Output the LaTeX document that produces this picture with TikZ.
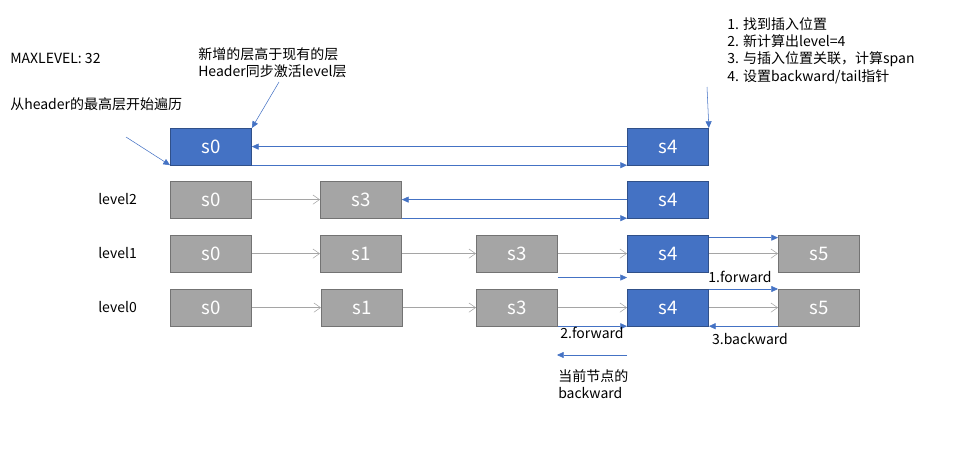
\documentclass[tikz,border=0pt]{standalone}
\usepackage{fontspec}
\setmainfont{Noto Sans CJK SC}
\usetikzlibrary{arrows.meta}
\definecolor{bl}{HTML}{4472C4}
\definecolor{gr}{HTML}{A5A5A5}
\definecolor{grb}{HTML}{7F7F7F}
\begin{document}
\begin{tikzpicture}[x=0.75pt,y=-0.75pt,
  bx/.style={draw=#1!70!black,fill=#1,minimum width=61pt,minimum height=27.5pt,inner sep=0,text=white,font=\fontsize{14}{14}\selectfont,anchor=north west},
  ba/.style={draw=bl,thin,-{Triangle[length=5pt,width=4.5pt]}},
  ga/.style={draw=gr,thin,-{Straight Barb[length=5pt,width=7pt]}},
  lb/.style={font=\fontsize{10.5}{13}\selectfont,align=left,inner sep=0}]
\useasboundingbox (0,0) rectangle (972,464);
% boxes
\node[bx=bl] (t0) at (170,128) {s0};
\node[bx=bl] (t4) at (627,128) {s4};
\node[bx=gr] (a0) at (170,181) {s0};
\node[bx=gr] (a3) at (320,181) {s3};
\node[bx=bl] (a4) at (627,181) {s4};
\node[bx=gr] (b0) at (170,235) {s0};
\node[bx=gr] (b1) at (320,235) {s1};
\node[bx=gr] (b3) at (476,235) {s3};
\node[bx=bl] (b4) at (627,235) {s4};
\node[bx=gr] (b5) at (778,235) {s5};
\node[bx=gr] (c0) at (170,289) {s0};
\node[bx=gr] (c1) at (321,289) {s1};
\node[bx=gr] (c3) at (476,289) {s3};
\node[bx=bl] (c4) at (627,289) {s4};
\node[bx=gr] (c5) at (778,289) {s5};
% top row
\draw[ba] ([yshift=0pt]t4.west) -- (t0.east);
\draw[ba] (t0.south east) -- (t4.south west);
% level2
\draw[ga] (a0) -- (a3);
\draw[ba] (a4.west) -- (a3.east);
\draw[ba] (a3.south east) -- (a4.south west);
% level1
\draw[ga] (b0) -- (b1);
\draw[ga] (b1) -- (b3);
\draw[ga] (b3) -- (b4);
\draw[ga] (b4) -- (b5);
\draw[ba] ([yshift=-4pt]b3.south east) -- ([yshift=-4pt]b4.south west);
\draw[ba] ([yshift=-2pt]b4.north east) -- ([yshift=-2pt]b5.north west);
% level0
\draw[ga] (c0) -- (c1);
\draw[ga] (c1) -- (c3);
\draw[ga] (c3) -- (c4);
\draw[ga] (c4) -- (c5);
\draw[ba] (c4.north east) -- (c5.north west);
\draw[ba] (c3.south east) -- (c4.south west);
\draw[ba] (c5.south west) -- (c4.south east);
% labels
\node[lb,anchor=north] (f1) at (740,271) {1.forward};
\node[lb,anchor=north] (f2) at (592,327) {2.forward};
\node[lb,anchor=north] (f3) at (750,333) {3.backward};
\coordinate (l1) at (627,355);
\coordinate (l2) at (557,355);
\draw[ba] (l1) -- (l2);
\node[lb,anchor=north west] (cur) at (558,369) {当前节点的\\backward};
\node[lb,anchor=west] (ml) at (10,58) {MAXLEVEL:\ 32};
\node[lb,anchor=north west] (n1) at (10,97) {从header的最高层开始遍历};
\node[lb,anchor=north west] (n2) at (198,47) {新增的层高于现有的层\\Header同步激活level层};
\node[lb,anchor=north west] (n3) at (727,17) {1. 找到插入位置\\2. 新计算出level=4\\3. 与插入位置关联，计算span\\4. 设置backward/tail指针};
\node[lb,anchor=west] (L2) at (98,199) {level2};
\node[lb,anchor=west] (L1) at (98,253) {level1};
\node[lb,anchor=west] (L0) at (98,307) {level0};
\coordinate (p1) at (126,137);
\coordinate (p2) at (279,82);
\coordinate (p3) at (707,87);
\draw[ba] (p1) -- (t0.south west -| 170,160) ;
\draw[ba] (p2) -- (t0.north east);
\draw[ba] (p3) -- (t4.north east);
\end{tikzpicture}
\end{document}
